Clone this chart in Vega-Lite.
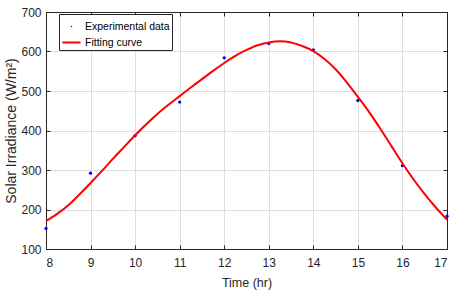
{
  "$schema": "https://vega.github.io/schema/vega-lite/v6.json",
  "width": 401,
  "height": 237,
  "autosize": {"type": "none"},
  "padding": {"left": 46, "top": 12, "right": 12, "bottom": 45},
  "background": "white",
  "config": {
    "font": "Liberation Sans",
    "view": {"stroke": null},
    "axis": {
      "domainColor": "#262626",
      "domainWidth": 1,
      "tickColor": "#262626",
      "tickSize": -4,
      "tickWidth": 1,
      "labelColor": "#262626",
      "labelFont": "Liberation Sans",
      "labelFontSize": 12,
      "titleFont": "Liberation Sans",
      "titleFontWeight": "normal",
      "titleColor": "#262626",
      "gridColor": "#dedede",
      "gridWidth": 1
    },
    "legend": {
      "labelFont": "Liberation Sans",
      "labelFontSize": 10.5,
      "labelColor": "#000000"
    }
  },
  "data": {
    "values": [
      {"series": "Experimental data", "time": 8, "irr": 152},
      {"series": "Experimental data", "time": 9, "irr": 292},
      {"series": "Experimental data", "time": 10, "irr": 387},
      {"series": "Experimental data", "time": 11, "irr": 472},
      {"series": "Experimental data", "time": 12, "irr": 584},
      {"series": "Experimental data", "time": 13, "irr": 620},
      {"series": "Experimental data", "time": 14, "irr": 604},
      {"series": "Experimental data", "time": 15, "irr": 476},
      {"series": "Experimental data", "time": 16, "irr": 311},
      {"series": "Experimental data", "time": 17, "irr": 183},
      {"series": "Fitting curve", "time": 8, "irr": 171},
      {"series": "Fitting curve", "time": 8.25, "irr": 189},
      {"series": "Fitting curve", "time": 8.5, "irr": 211},
      {"series": "Fitting curve", "time": 8.75, "irr": 238},
      {"series": "Fitting curve", "time": 9, "irr": 267},
      {"series": "Fitting curve", "time": 9.25, "irr": 297},
      {"series": "Fitting curve", "time": 9.5, "irr": 328},
      {"series": "Fitting curve", "time": 9.75, "irr": 358},
      {"series": "Fitting curve", "time": 10, "irr": 388},
      {"series": "Fitting curve", "time": 10.25, "irr": 416},
      {"series": "Fitting curve", "time": 10.5, "irr": 442},
      {"series": "Fitting curve", "time": 10.75, "irr": 465},
      {"series": "Fitting curve", "time": 11, "irr": 487},
      {"series": "Fitting curve", "time": 11.25, "irr": 509},
      {"series": "Fitting curve", "time": 11.5, "irr": 530},
      {"series": "Fitting curve", "time": 11.75, "irr": 551},
      {"series": "Fitting curve", "time": 12, "irr": 571},
      {"series": "Fitting curve", "time": 12.25, "irr": 589},
      {"series": "Fitting curve", "time": 12.5, "irr": 604},
      {"series": "Fitting curve", "time": 12.75, "irr": 616},
      {"series": "Fitting curve", "time": 13, "irr": 623},
      {"series": "Fitting curve", "time": 13.25, "irr": 626},
      {"series": "Fitting curve", "time": 13.5, "irr": 623},
      {"series": "Fitting curve", "time": 13.75, "irr": 614},
      {"series": "Fitting curve", "time": 14, "irr": 601},
      {"series": "Fitting curve", "time": 14.25, "irr": 581},
      {"series": "Fitting curve", "time": 14.5, "irr": 555},
      {"series": "Fitting curve", "time": 14.75, "irr": 522},
      {"series": "Fitting curve", "time": 15, "irr": 485},
      {"series": "Fitting curve", "time": 15.25, "irr": 447},
      {"series": "Fitting curve", "time": 15.5, "irr": 405},
      {"series": "Fitting curve", "time": 15.75, "irr": 361},
      {"series": "Fitting curve", "time": 16, "irr": 317},
      {"series": "Fitting curve", "time": 16.25, "irr": 276},
      {"series": "Fitting curve", "time": 16.5, "irr": 239},
      {"series": "Fitting curve", "time": 16.75, "irr": 205},
      {"series": "Fitting curve", "time": 17, "irr": 174}
    ]
  },
  "layer": [
    {
      "transform": [{"filter": "datum.series === 'Experimental data'"}],
      "mark": {"type": "point", "filled": true, "shape": "circle", "size": 11, "opacity": 1},
      "encoding": {
        "x": {
          "field": "time", "type": "quantitative",
          "scale": {"domain": [8, 17], "nice": false, "zero": false},
          "axis": {"orient": "bottom", "values": [8, 9, 10, 11, 12, 13, 14, 15, 16, 17], "title": "Time (hr)", "titleFontSize": 12.5, "labelPadding": 12, "titlePadding": 8, "grid": true}
        },
        "y": {
          "field": "irr", "type": "quantitative",
          "scale": {"domain": [100, 700], "nice": false, "zero": false},
          "axis": {"orient": "left", "values": [100, 200, 300, 400, 500, 600, 700], "title": "Solar Irradiance (W/m²)", "titleFontSize": 14, "labelPadding": 9, "titlePadding": 2, "grid": true}
        },
        "color": {
          "field": "series", "type": "nominal",
          "scale": {"domain": ["Experimental data", "Fitting curve"], "range": ["#0000ff", "#ff0000"]},
          "legend": {
            "title": null,
            "orient": "none",
            "legendX": 13,
            "legendY": 2,
            "fillColor": "white",
            "strokeColor": "#262626",
            "padding": 2,
            "symbolSize": 330,
            "symbolType": {"expr": "datum.value === 'Fitting curve' ? 'stroke' : 'M-0.09,0A0.09,0.09,0,1,0,0.09,0A0.09,0.09,0,1,0,-0.09,0Z'"},
            "symbolStrokeWidth": 2,
            "symbolStrokeColor": {"expr": "datum.value === 'Fitting curve' ? '#ff0000' : 'transparent'"},
            "symbolFillColor": {"expr": "datum.value === 'Fitting curve' ? 'transparent' : '#0000ff'"},
            "labelOffset": 3,
            "rowPadding": -3
          }
        }
      }
    },
    {
      "transform": [{"filter": "datum.series === 'Fitting curve'"}],
      "mark": {"type": "line", "strokeWidth": 2, "interpolate": "monotone", "color": "#ff0000"},
      "encoding": {
        "x": {
          "field": "time", "type": "quantitative",
          "axis": {"orient": "top", "values": [8, 9, 10, 11, 12, 13, 14, 15, 16, 17], "labels": false, "title": null, "grid": false}
        },
        "y": {
          "field": "irr", "type": "quantitative",
          "axis": {"orient": "right", "values": [100, 200, 300, 400, 500, 600, 700], "labels": false, "title": null, "grid": false}
        }
      }
    }
  ],
  "resolve": {"axis": {"x": "independent", "y": "independent"}}
}
